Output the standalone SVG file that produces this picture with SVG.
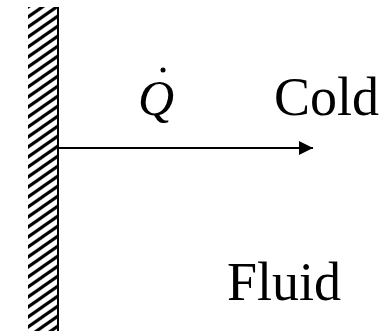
<svg xmlns="http://www.w3.org/2000/svg" width="385" height="331" viewBox="0 0 385 331">
<style>
.lbl{font-family:"Liberation Serif","Times New Roman",serif;fill:#000}
</style>
<defs>
<pattern id="hatch" patternUnits="userSpaceOnUse" width="14.286" height="10" x="28" y="7">
<path d="M-14.286,20 L28.571,-10 M-14.286,10 L28.571,-20 M-14.286,30 L28.571,0" stroke="#000" stroke-width="3.2"/>
</pattern>
<marker id="ah" markerWidth="14" markerHeight="14" refX="14" refY="7" orient="auto" markerUnits="userSpaceOnUse">
<path d="M0,0 L14,7 L0,14 Z" fill="#000"/>
</marker>
</defs>
<g id="wall">
<rect x="28" y="7" width="29" height="324" fill="url(#hatch)"/>
<line x1="58" y1="7" x2="58" y2="331" stroke="#000" stroke-width="2"/>
</g>
<g id="connectors">
<line x1="59" y1="148" x2="313" y2="148" stroke="#000" stroke-width="2" marker-end="url(#ah)"/>
</g>
<g id="qdot">
<text class="lbl" x="138" y="115" font-size="50" font-style="italic">Q</text>
<circle cx="163" cy="70" r="2.5" fill="#000"/>
</g>
<g id="cold">
<text class="lbl" x="274" y="115" font-size="54">Cold</text>
</g>
<g id="fluid">
<text class="lbl" x="227" y="300" font-size="54">Fluid</text>
</g>
</svg>
